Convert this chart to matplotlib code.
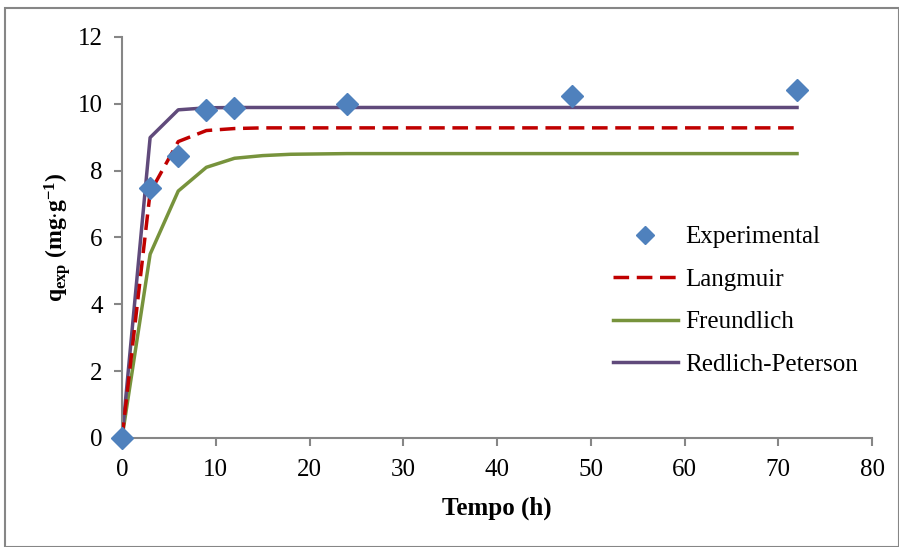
import matplotlib
matplotlib.use("Agg")
import matplotlib.pyplot as plt
from matplotlib.patches import Rectangle

plt.rcParams['font.family'] = ['Liberation Serif', 'DejaVu Serif']
plt.rcParams['mathtext.fontset'] = 'custom'
plt.rcParams['mathtext.rm'] = 'Liberation Serif'
plt.rcParams['mathtext.it'] = 'Liberation Serif:italic'
plt.rcParams['mathtext.bf'] = 'Liberation Serif:bold'

t_exp = [0, 3, 6, 9, 12, 24, 48, 72]
q_exp = [0, 7.47, 8.45, 9.82, 9.88, 9.98, 10.22, 10.40]

t_model = [0, 3, 6, 9, 12, 15, 18, 21, 24, 27, 30, 33, 36, 39, 42, 45, 48, 51, 54, 57, 60, 63, 66, 69, 72]
q_langmuir = [0, 7.35, 8.87, 9.20, 9.26, 9.28, 9.28, 9.28, 9.28, 9.28, 9.28, 9.28, 9.28, 9.28, 9.28, 9.28, 9.28, 9.28, 9.28, 9.28, 9.28, 9.28, 9.28, 9.28, 9.28]
q_freundlich = [0, 5.50, 7.39, 8.10, 8.37, 8.45, 8.49, 8.50, 8.51, 8.51, 8.51, 8.51, 8.51, 8.51, 8.51, 8.51, 8.51, 8.51, 8.51, 8.51, 8.51, 8.51, 8.51, 8.51, 8.51]
q_rp = [0, 8.99, 9.82, 9.88, 9.89, 9.89, 9.89, 9.89, 9.89, 9.89, 9.89, 9.89, 9.89, 9.89, 9.89, 9.89, 9.89, 9.89, 9.89, 9.89, 9.89, 9.89, 9.89, 9.89, 9.89]

fig = plt.figure(figsize=(8.99, 5.47), dpi=100)
ax = fig.add_axes([0.1357, 0.1993, 0.8343, 0.7331])

ax.plot(t_model, q_langmuir, color='#C00000', lw=2.5, ls=(0, (4.5, 2.2)), label='Langmuir', zorder=3)
ax.plot(t_model, q_freundlich, color='#77933C', lw=2.5, label='Freundlich', zorder=2)
ax.plot(t_model, q_rp, color='#604A7B', lw=2.5, label='Redlich-Peterson', zorder=2)
ax.plot(t_exp, q_exp, ls='none', marker='D', ms=11, color='#4F81BD', label='Experimental', zorder=4, clip_on=False)

ax.set_xlim(0, 80)
ax.set_ylim(0, 12)
ax.set_xticks(range(0, 81, 10))
ax.set_yticks(range(0, 13, 2))
for s in ['top', 'right']:
    ax.spines[s].set_visible(False)
for s in ['left', 'bottom']:
    ax.spines[s].set_color('#868686')
    ax.spines[s].set_linewidth(1.5)
ax.tick_params(axis='both', direction='out', length=6, width=1.5, color='#868686', labelsize=18)
ax.tick_params(axis='x', pad=9)
ax.tick_params(axis='y', pad=8)

ax.set_xlabel('Tempo (h)', fontsize=18, fontweight='bold', labelpad=11)
ax.set_ylabel(r'q$_{\mathbf{exp}}$ (mg$\mathbf{\cdot}$g$^{\mathbf{-1}}$)', fontsize=17, fontweight='bold', labelpad=3)

handles, labels = ax.get_legend_handles_labels()
order = [3, 0, 1, 2]
ax.legend([handles[i] for i in order], [labels[i] for i in order], loc='center left',
          bbox_to_anchor=(0.624, 0.342), frameon=False, fontsize=18, handlelength=2.6,
          handletextpad=0.3, labelspacing=0.8, markerscale=0.85)

fig.patches.append(Rectangle((0.006, 0.0), 0.994, 0.985, transform=fig.transFigure,
                             fill=False, edgecolor='#868686', lw=1.5))

fig.savefig('out.png', dpi=100)
